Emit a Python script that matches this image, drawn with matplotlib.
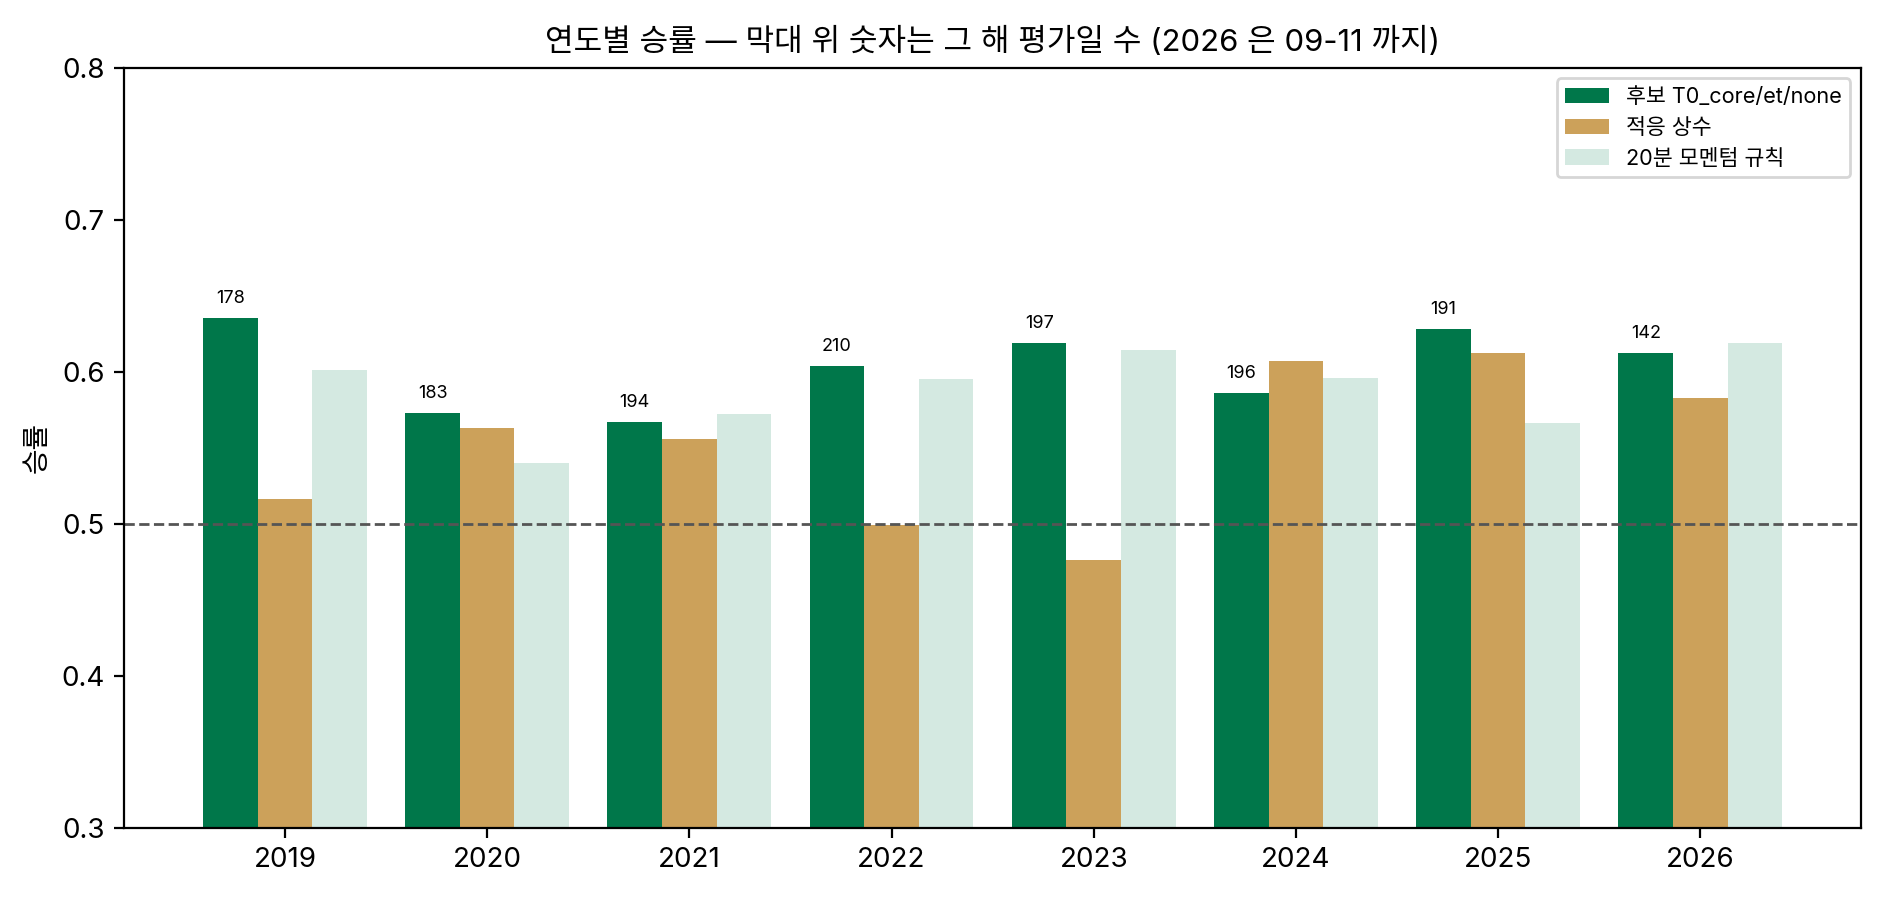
import matplotlib
matplotlib.use('Agg')
import matplotlib.pyplot as plt
import numpy as np

plt.rcParams['font.family'] = ['Inter', 'Noto Sans CJK KR', 'DejaVu Sans']

years = ['2019', '2020', '2021', '2022', '2023', '2024', '2025', '2026']
candidate = [0.635, 0.573, 0.567, 0.604, 0.619, 0.586, 0.628, 0.612]
adaptive = [0.516, 0.563, 0.556, 0.499, 0.476, 0.607, 0.612, 0.583]
momentum = [0.601, 0.540, 0.572, 0.595, 0.614, 0.596, 0.566, 0.619]
days = [178, 183, 194, 210, 197, 196, 191, 142]

x = np.arange(len(years))
w = 0.27

fig, ax = plt.subplots(figsize=(9.4, 4.5), dpi=200)
b1 = ax.bar(x - w, candidate, w, color='#00774A', label='후보 T0_core/et/none')
ax.bar(x, adaptive, w, color='#CCA15A', label='적응 상수')
ax.bar(x + w, momentum, w, color='#D4E9E1', label='20분 모멘텀 규칙')

for rect, d in zip(b1, days):
    ax.annotate(str(d), (rect.get_x() + rect.get_width() / 2, rect.get_height()),
                xytext=(0, 4), textcoords='offset points',
                ha='center', va='bottom', fontsize=6.5)

ax.axhline(0.5, color='#555555', linestyle='--', linewidth=1)
ax.set_ylim(0.3, 0.8)
ax.set_xticks(x)
ax.set_xticklabels(years)
ax.set_ylabel('승률')
ax.set_title('연도별 승률 — 막대 위 숫자는 그 해 평가일 수 (2026 은 09-11 까지)', fontsize=11.2)
ax.legend(loc='upper right', fontsize=7.8)

plt.subplots_adjust(left=0.066, right=0.99, top=0.925, bottom=0.08)
plt.savefig('out.png')
